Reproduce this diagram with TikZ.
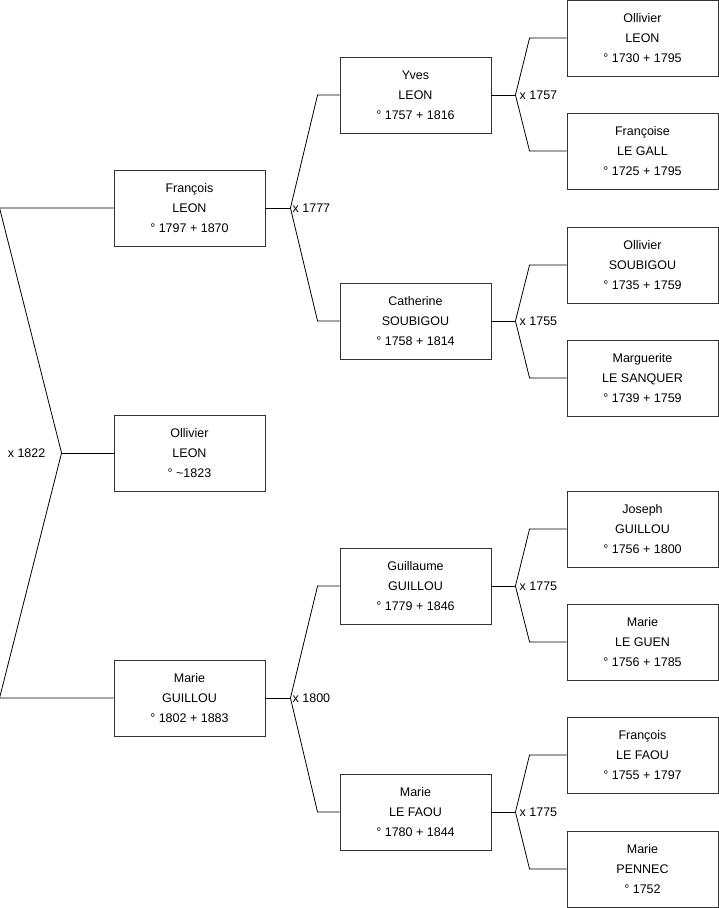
\documentclass[tikz,border=0pt]{standalone}
\usepackage{fontspec}
\setmainfont{Liberation Sans}
\usetikzlibrary{positioning, calc}
\tikzset{
  % Person boxes
  person/.style={draw=black!80, line width=0.9pt, minimum width=151pt, minimum height=76pt,
    inner sep=0pt, align=center, font=\fontsize{12.5}{20}\selectfont},
  % Fork lines between a child and its parents
  forkline/.style={draw=black, line width=0.8pt},
  % Marriage year labels
  marriage/.style={inner sep=0pt, font=\fontsize{12.5}{15}\selectfont},
}

\begin{document}
\begin{tikzpicture}[x=1pt, y=-1pt]

  \useasboundingbox (0,0) rectangle (719,908);

  % Generation 1
  \node[person] (ollivier) at (189.5,453) {Ollivier \\ LEON \\ ° \textasciitilde1823};

  % Generation 2
  \node[person] (francois) at (189.5,208) {François \\ LEON \\ ° 1797 + 1870};
  \node[person] (marie) at (189.5,698) {Marie \\ GUILLOU \\ ° 1802 + 1883};

  % Generation 3
  \node[person] (yves) at (415.5,95) {Yves \\ LEON \\ ° 1757 + 1816};
  \node[person] (catherine) at (415.5,321) {Catherine \\ SOUBIGOU \\ ° 1758 + 1814};
  \node[person] (guillaume) at (415.5,586) {Guillaume \\ GUILLOU \\ ° 1779 + 1846};
  \node[person] (marielf) at (415.5,812) {Marie \\ LE FAOU \\ ° 1780 + 1844};

  % Generation 4
  \node[person] (ollivierl) at (642.5,38) {Ollivier \\ LEON \\ ° 1730 + 1795};
  \node[person] (francoise) at (642.5,151) {Françoise \\ LE GALL \\ ° 1725 + 1795};
  \node[person] (olliviers) at (642.5,265) {Ollivier \\ SOUBIGOU \\ ° 1735 + 1759};
  \node[person] (marguerite) at (642.5,378) {Marguerite \\ LE SANQUER \\ ° 1739 + 1759};
  \node[person] (joseph) at (642.5,529) {Joseph \\ GUILLOU \\ ° 1756 + 1800};
  \node[person] (marielg) at (642.5,642) {Marie \\ LE GUEN \\ ° 1756 + 1785};
  \node[person] (francoislf) at (642.5,755) {François \\ LE FAOU \\ ° 1755 + 1797};
  \node[person] (mariep) at (642.5,869) {Marie \\ PENNEC \\ ° 1752};

  % Parents of Ollivier
  \draw[forkline] (ollivier.west) -- ++(-52,0) coordinate (m1822);
  \draw[forkline] (francois.west) -- ++(-114,0) -- (m1822) -- ($(marie.west)+(-114,0)$) -- (marie.west);
  \node[marriage, left=16pt of m1822] (x1822) {x 1822};

  % Parents of François
  \draw[forkline] (francois.east) -- ++(25,0) coordinate (m1777);
  \draw[forkline] (yves.west) -- ++(-22,0) -- (m1777) -- ($(catherine.west)+(-22,0)$) -- (catherine.west);
  \node[marriage, right=2pt of m1777] (x1777) {x 1777};

  % Parents of Marie
  \draw[forkline] (marie.east) -- ++(25,0) coordinate (m1800);
  \draw[forkline] (guillaume.west) -- ++(-22,0) -- (m1800) -- ($(marielf.west)+(-22,0)$) -- (marielf.west);
  \node[marriage, right=2pt of m1800] (x1800) {x 1800};

  % Parents of Yves
  \draw[forkline] (yves.east) -- ++(24,0) coordinate (m1757);
  \draw[forkline] (ollivierl.west) -- ++(-37,0) -- (m1757) -- ($(francoise.west)+(-37,0)$) -- (francoise.west);
  \node[marriage, right=4pt of m1757] (x1757) {x 1757};

  % Parents of Catherine
  \draw[forkline] (catherine.east) -- ++(24,0) coordinate (m1755);
  \draw[forkline] (olliviers.west) -- ++(-37,0) -- (m1755) -- ($(marguerite.west)+(-37,0)$) -- (marguerite.west);
  \node[marriage, right=4pt of m1755] (x1755) {x 1755};

  % Parents of Guillaume
  \draw[forkline] (guillaume.east) -- ++(24,0) coordinate (m1775a);
  \draw[forkline] (joseph.west) -- ++(-37,0) -- (m1775a) -- ($(marielg.west)+(-37,0)$) -- (marielg.west);
  \node[marriage, right=4pt of m1775a] (x1775a) {x 1775};

  % Parents of Marie LE FAOU
  \draw[forkline] (marielf.east) -- ++(24,0) coordinate (m1775b);
  \draw[forkline] (francoislf.west) -- ++(-37,0) -- (m1775b) -- ($(mariep.west)+(-37,0)$) -- (mariep.west);
  \node[marriage, right=4pt of m1775b] (x1775b) {x 1775};

\end{tikzpicture}
\end{document}
